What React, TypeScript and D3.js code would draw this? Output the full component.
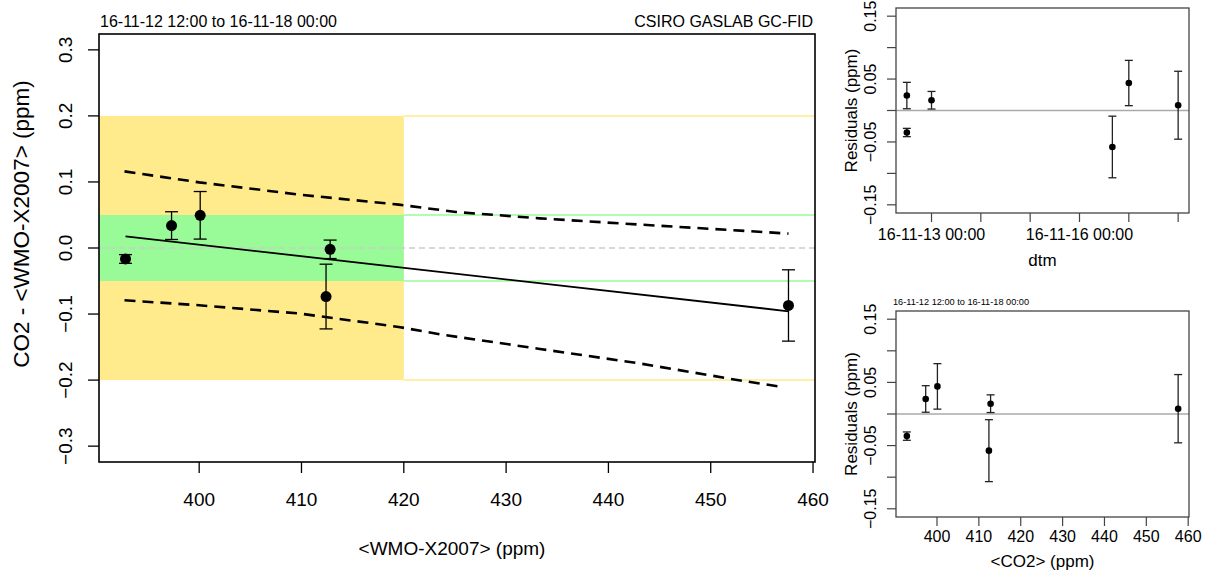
import React from "react";
import * as d3 from "d3";

// calibration results, in order of <WMO-X2007>
const refCO2 = [392.8, 397.3, 400.1, 412.4, 412.8, 457.6];
const diffCO2 = [-0.0166, 0.0339, 0.0495, -0.0735, -0.002, -0.087];
const errCO2 = [0.0066, 0.021, 0.036, 0.049, 0.014, 0.054];
const residuals = [-0.035, 0.0238, 0.0437, -0.058, 0.0163, 0.0084];
const dtmStr = [
  "2016-11-12 12:00",
  "2016-11-12 12:00",
  "2016-11-17 00:00",
  "2016-11-16 16:00",
  "2016-11-13 00:00",
  "2016-11-18 00:00",
];

// fitted line and its prediction limits
const fitX = [392.8, 457.6];
const fitY = [0.0177, -0.0958];
const upperX = [392.7, 400.0, 409.8, 419.5, 425.1, 433.3, 443.1, 452.9, 457.6];
const upperY = [0.116, 0.0994, 0.0808, 0.0657, 0.0545, 0.0449, 0.0354, 0.0263, 0.0218];
const lowerX = [392.7, 400.0, 409.8, 419.5, 423.5, 433.3, 443.1, 452.9, 457.1];
const lowerY = [-0.0791, -0.0867, -0.0992, -0.1195, -0.1306, -0.1528, -0.1749, -0.2006, -0.2107];

// tolerance bands
const outerBand = 0.2;
const innerBand = 0.05;
const bandEndX = 420;

const mainXTicks = [400, 410, 420, 430, 440, 450, 460];
const mainYTicks = [-0.3, -0.2, -0.1, 0.0, 0.1, 0.2, 0.3];
const residTicks = [-0.15, -0.1, -0.05, 0, 0.05, 0.1, 0.15];
const residLabelled = [-0.15, -0.05, 0.05, 0.15];
const dtmTicks = ["2016-11-13 00:00", "2016-11-14 00:00", "2016-11-15 00:00", "2016-11-16 00:00", "2016-11-17 00:00", "2016-11-18 00:00"];
const dtmLabelled = ["2016-11-13 00:00", "2016-11-16 00:00"];

const titleText = "16-11-12 12:00 to 16-11-18 00:00";
const FONT = "'Liberation Sans', Arial, Helvetica, sans-serif";

const parseDtm = d3.timeParse("%Y-%m-%d %H:%M");
const fmtDtm = d3.timeFormat("%y-%m-%d %H:%M");

// R style 4% padding
const padExtent = (lo: number, hi: number): [number, number] => {
  const p = (hi - lo) * 0.04;
  return [lo - p, hi + p];
};

export default function App() {
  // main panel
  const mL = 99, mR = 815, mT = 34, mB = 462;
  const xm = d3.scaleLinear().domain(padExtent(d3.min(refCO2)!, d3.max(refCO2)!)).range([mL, mR]);
  const ym = d3.scaleLinear().domain(padExtent(-0.3, 0.3)).range([mB, mT]);

  // residual panels
  const rL = 896, rR = 1189;
  const tT = 8, tB = 213;
  const bT = 311, bB = 517;
  const dates = dtmStr.map((s) => parseDtm(s)!);
  const dExt = d3.extent(dates) as [Date, Date];
  const dPad = (dExt[1].getTime() - dExt[0].getTime()) * 0.04;
  const xt = d3
    .scaleTime()
    .domain([new Date(dExt[0].getTime() - dPad), new Date(dExt[1].getTime() + dPad)])
    .range([rL, rR]);
  const yt = d3.scaleLinear().domain([-0.163, 0.163]).range([tB, tT]);
  const xb = d3.scaleLinear().domain(xm.domain()).range([rL, rR]);
  const yb = d3.scaleLinear().domain([-0.163, 0.163]).range([bB, bT]);

  const line = d3.line<[number, number]>().x((d) => xm(d[0])).y((d) => ym(d[1]));
  const upperPts = upperX.map((x, i) => [x, upperY[i]] as [number, number]);
  const lowerPts = lowerX.map((x, i) => [x, lowerY[i]] as [number, number]);
  const fitPts = fitX.map((x, i) => [x, fitY[i]] as [number, number]);

  const errBar = (x: number, y0: number, y1: number, cap: number, key: string, stroke: string) => (
    <g key={key} stroke={stroke} strokeWidth={1.3}>
      <line x1={x} x2={x} y1={y0} y2={y1} />
      <line x1={x - cap} x2={x + cap} y1={y0} y2={y0} />
      <line x1={x - cap} x2={x + cap} y1={y1} y2={y1} />
    </g>
  );

  const residPanel = (
    key: string,
    xs: number[],
    y: d3.ScaleLinear<number, number>,
    top: number,
    bottom: number
  ) => (
    <g key={key}>
      <line x1={rL} x2={rR} y1={y(0)} y2={y(0)} stroke="#aaa" strokeWidth={1.3} />
      {xs.map((x, i) =>
        errBar(x, y(residuals[i] + errCO2[i]), y(residuals[i] - errCO2[i]), 4, key + "e" + i, "#222")
      )}
      {xs.map((x, i) => (
        <circle key={key + "p" + i} cx={x} cy={y(residuals[i])} r={3.3} fill="#000" />
      ))}
      <rect x={rL} y={top} width={rR - rL} height={bottom - top} fill="none" stroke="#444" strokeWidth={1.3} />
      {residTicks.map((t) => (
        <line key={key + "yt" + t} x1={rL - 9} x2={rL} y1={y(t)} y2={y(t)} stroke="#444" strokeWidth={1.2} />
      ))}
      {residLabelled.map((t) => (
        <text
          key={key + "yl" + t}
          transform={`translate(875.5,${y(t)}) rotate(-90)`}
          textAnchor="middle"
          fontSize={16}
        >
          {d3.format(".2f")(t)}
        </text>
      ))}
      <text
        transform={`translate(857,${(top + bottom) / 2}) rotate(-90)`}
        textAnchor="middle"
        fontSize={17}
      >
        Residuals (ppm)
      </text>
    </g>
  );

  return (
    <div style={{ position: "absolute", left: 0, top: 0 }}>
      <svg width={1206} height={574} style={{ display: "block", background: "#fff" }} fontFamily={FONT}>
        {/* ---- main panel ---- */}
        <rect x={mL} y={ym(outerBand)} width={xm(bandEndX) - mL} height={ym(-outerBand) - ym(outerBand)} fill="#ffea8c" />
        <rect x={mL} y={ym(innerBand)} width={xm(bandEndX) - mL} height={ym(-innerBand) - ym(innerBand)} fill="#98fb98" />
        {[outerBand, -outerBand].map((b) => (
          <line key={"ob" + b} x1={xm(bandEndX)} x2={mR} y1={ym(b)} y2={ym(b)} stroke="#ffea8c" strokeWidth={1.5} />
        ))}
        {[innerBand, -innerBand].map((b) => (
          <line key={"ib" + b} x1={xm(bandEndX)} x2={mR} y1={ym(b)} y2={ym(b)} stroke="#98fb98" strokeWidth={1.5} />
        ))}
        <line x1={mL} x2={mR} y1={ym(0)} y2={ym(0)} stroke="#cccccc" strokeWidth={1.3} strokeDasharray="6 4" />

        <path d={line(upperPts)!} fill="none" stroke="#000" strokeWidth={2.6} strokeDasharray="11 7" />
        <path d={line(lowerPts)!} fill="none" stroke="#000" strokeWidth={2.6} strokeDasharray="11 7" />
        <path d={line(fitPts)!} fill="none" stroke="#000" strokeWidth={1.8} />

        {refCO2.map((x, i) =>
          errBar(xm(x), ym(diffCO2[i] + errCO2[i]), ym(diffCO2[i] - errCO2[i]), 6.5, "me" + i, "#000")
        )}
        {refCO2.map((x, i) => (
          <circle key={"mp" + i} cx={xm(x)} cy={ym(diffCO2[i])} r={5.5} fill="#000" />
        ))}

        <rect x={mL} y={mT} width={mR - mL} height={mB - mT} fill="none" stroke="#000" strokeWidth={1.6} />
        {mainXTicks.map((t) => (
          <g key={"mx" + t}>
            <line x1={xm(t)} x2={xm(t)} y1={mB} y2={mB + 11} stroke="#000" strokeWidth={1.3} />
            <text x={xm(t)} y={506} textAnchor="middle" fontSize={19}>
              {t}
            </text>
          </g>
        ))}
        {mainYTicks.map((t) => (
          <g key={"my" + t}>
            <line x1={mL - 11} x2={mL} y1={ym(t)} y2={ym(t)} stroke="#000" strokeWidth={1.3} />
            <text transform={`translate(72,${ym(t)}) rotate(-90)`} textAnchor="middle" fontSize={19}>
              {d3.format(".1f")(t)}
            </text>
          </g>
        ))}
        <text x={452} y={555} textAnchor="middle" fontSize={19}>
          {"<WMO-X2007> (ppm)"}
        </text>
        <text transform={`translate(29,224) rotate(-90)`} textAnchor="middle" fontSize={22.5}>
          {"CO2 - <WMO-X2007> (ppm)"}
        </text>
        <text x={100} y={26.5} fontSize={16}>
          {titleText}
        </text>
        <text x={813} y={26.5} textAnchor="end" fontSize={16}>
          CSIRO GASLAB GC-FID
        </text>

        {/* ---- residuals vs time ---- */}
        {residPanel("t", dates.map((d) => xt(d)), yt, tT, tB)}
        {dtmTicks.map((s) => (
          <line
            key={"dt" + s}
            x1={xt(parseDtm(s)!)}
            x2={xt(parseDtm(s)!)}
            y1={tB}
            y2={tB + 9}
            stroke="#444"
            strokeWidth={1.2}
          />
        ))}
        {dtmLabelled.map((s) => (
          <text key={"dl" + s} x={xt(parseDtm(s)!)} y={239.5} textAnchor="middle" fontSize={16}>
            {fmtDtm(parseDtm(s)!)}
          </text>
        ))}
        <text x={(rL + rR) / 2} y={266} textAnchor="middle" fontSize={17}>
          dtm
        </text>

        {/* ---- residuals vs CO2 ---- */}
        {residPanel("b", refCO2.map((x) => xb(x)), yb, bT, bB)}
        {mainXTicks.map((t) => (
          <g key={"bx" + t}>
            <line x1={xb(t)} x2={xb(t)} y1={bB} y2={bB + 9} stroke="#444" strokeWidth={1.2} />
            <text x={xb(t)} y={541.5} textAnchor="middle" fontSize={16}>
              {t}
            </text>
          </g>
        ))}
        <text x={(rL + rR) / 2} y={566.5} textAnchor="middle" fontSize={17}>
          {"<CO2> (ppm)"}
        </text>
        <text x={893} y={305} fontSize={9.2}>
          {titleText}
        </text>
      </svg>
    </div>
  );
}
